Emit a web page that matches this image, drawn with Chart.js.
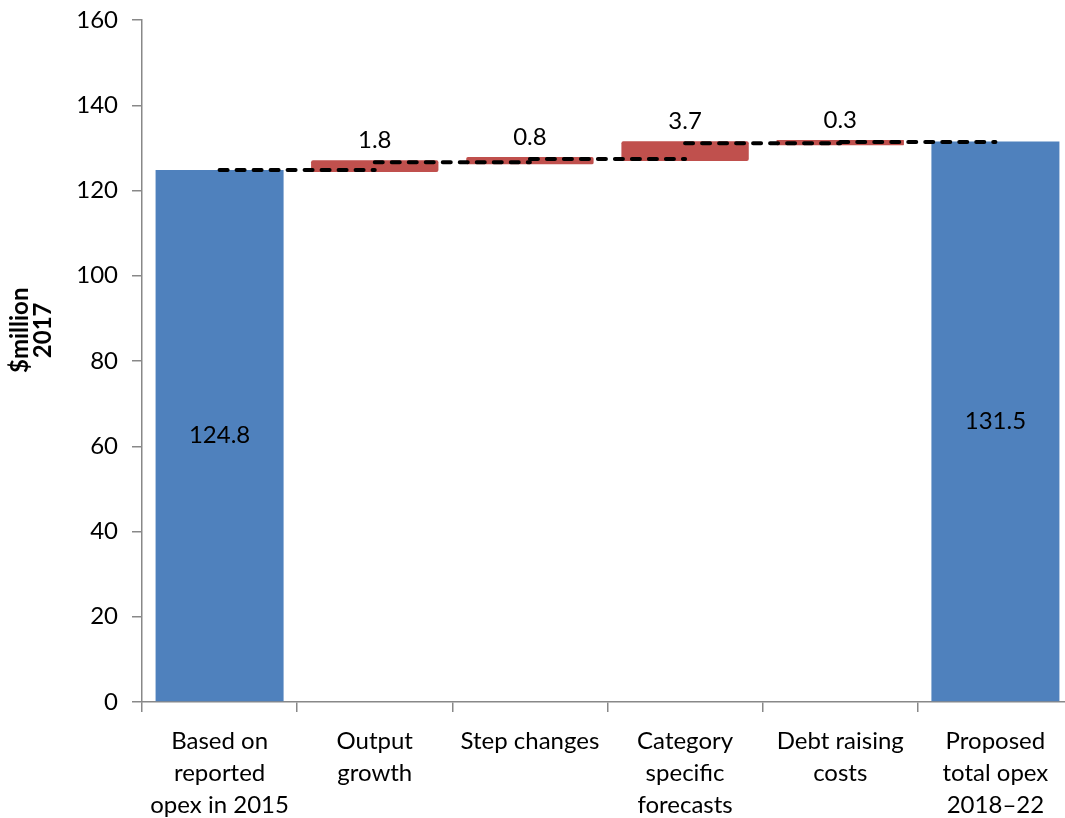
<!DOCTYPE html>
<html>
<head>
<meta charset="utf-8">
<script src="https://cdn.jsdelivr.net/npm/chart.js@4"></script>
<style>
  html, body { margin: 0; padding: 0; background: #fff; overflow: hidden; }
  #wrap { width: 1065px; height: 818px; overflow: hidden; }
</style>
</head>
<body>
<div id="wrap"><canvas id="c" width="1073" height="818"></canvas></div>
<script>
// Opex build-up, $million 2017
const categories = [
  ['Based on', 'reported', 'opex in 2015'],
  ['Output', 'growth'],
  ['Step changes'],
  ['Category', 'specific', 'forecasts'],
  ['Debt raising', 'costs'],
  ['Proposed', 'total opex', '2018\u201322']
];
const baseOpex = 124.8;
const increments = [1.8, 0.8, 3.7, 0.3];
const totalOpex = 131.5;
const yTicks = [0, 20, 40, 60, 80, 100, 120, 140, 160];
const yTitle = ['$million', '2017'];

const BLUE = '#4F81BD';
const RED = '#C0504D';
const FONT = 'Lato, "Open Sans", sans-serif';

// Running totals for the floating steps
const levels = [baseOpex];
increments.forEach((v, i) => levels.push(+(levels[i] + v).toFixed(1)));

const n = categories.length;
const totalsData = new Array(n).fill(null);
totalsData[0] = baseOpex;
totalsData[n - 1] = totalOpex;

const stepData = new Array(n).fill(null);
increments.forEach((v, i) => { stepData[i + 1] = [levels[i], levels[i + 1]]; });

// Dashed connectors: each running total spans from one category to the next
const connectorSets = levels.map((lv, i) => {
  const d = new Array(n).fill(null);
  d[i] = lv; d[i + 1] = lv;
  return {
    type: 'line',
    data: d,
    borderColor: '#000',
    borderWidth: 4,
    borderDash: [8, 9],
    borderCapStyle: 'round',
    pointRadius: 0,
    spanGaps: false,
    order: 0,
    fill: false
  };
});

const valueLabels = {
  id: 'valueLabels',
  afterDatasetsDraw(chart) {
    const ctx = chart.ctx;
    ctx.save();
    ctx.font = '24px ' + FONT;
    ctx.fillStyle = '#000';
    ctx.textAlign = 'center';
    // totals: centred inside the bar
    chart.getDatasetMeta(0).data.forEach((el, i) => {
      if (totalsData[i] == null) return;
      ctx.textBaseline = 'middle';
      ctx.fillText(totalsData[i].toFixed(1), el.x, (el.y + el.base) / 2);
    });
    // steps: above the bar
    chart.getDatasetMeta(1).data.forEach((el, i) => {
      if (stepData[i] == null) return;
      ctx.textBaseline = 'middle';
      ctx.fillText(increments[i - 1].toFixed(1), el.x, Math.min(el.y, el.base) - 22);
    });
    ctx.restore();
  }
};

// Vertical axis title, two bold lines side by side
const axisTitle = {
  id: 'axisTitle',
  afterDraw(chart) {
    const ctx = chart.ctx;
    const a = chart.chartArea;
    ctx.save();
    ctx.font = 'bold 24px ' + FONT;
    ctx.fillStyle = '#000';
    ctx.textAlign = 'center';
    ctx.textBaseline = 'middle';
    ctx.translate(0, a.top + (a.bottom - a.top) * 0.455);
    ctx.rotate(-Math.PI / 2);
    ctx.fillText(yTitle[0], 0, 20);
    ctx.fillText(yTitle[1], 0, 43);
    ctx.restore();
  }
};

new Chart(document.getElementById('c'), {
  data: {
    labels: categories,
    datasets: [
      {
        type: 'bar',
        data: totalsData,
        backgroundColor: BLUE,
        borderWidth: 0,
        grouped: false,
        categoryPercentage: 1,
        barPercentage: 0.825,
        inflateAmount: 0,
        order: 1
      },
      {
        type: 'bar',
        data: stepData,
        backgroundColor: RED,
        borderWidth: 0,
        borderRadius: 2,
        borderSkipped: false,
        grouped: false,
        categoryPercentage: 1,
        barPercentage: 0.795,
        inflateAmount: 2,
        order: 1
      },
      ...connectorSets
    ]
  },
  options: {
    responsive: false,
    animation: false,
    layout: { padding: { top: 20, right: 0, left: 0, bottom: 0 } },
    plugins: { legend: { display: false }, tooltip: { enabled: false } },
    scales: {
      x: {
        offset: true,
        grid: { offset: true, drawOnChartArea: false, drawTicks: true, tickLength: 10, color: '#888', lineWidth: 1.5 },
        border: { color: '#888', width: 1.5 },
        ticks: { color: '#000', padding: 13, maxRotation: 0, autoSkip: false,
                 font: { family: FONT, size: 24, lineHeight: 1.33 } },
        afterFit(s) { s.height = 116; }
      },
      y: {
        min: 0, max: 160,
        afterBuildTicks(s) { s.ticks = yTicks.map(v => ({ value: v })); },
        grid: { drawOnChartArea: false, tickLength: 10, color: '#888', lineWidth: 1.5 },
        border: { color: '#888', width: 1.5 },
        ticks: { color: '#000', padding: 14, font: { family: FONT, size: 24 } },
        afterFit(s) { s.width = 142; s.paddingTop = 0; s.paddingBottom = 0; }
      }
    }
  },
  plugins: [valueLabels, axisTitle]
});
</script>
</body>
</html>
